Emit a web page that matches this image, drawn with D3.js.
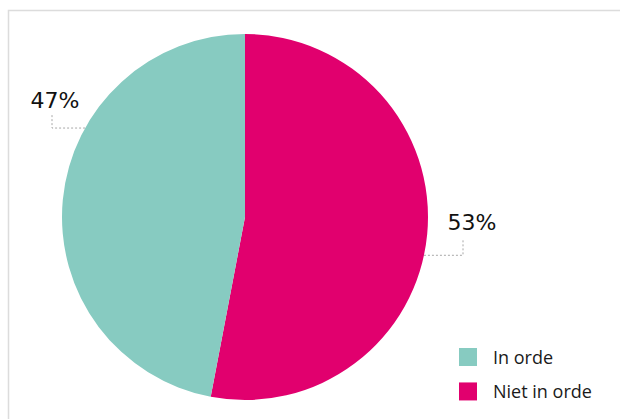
<html>
<head>
<script src="https://d3js.org/d3.v7.min.js"></script>
<style>
  body { margin: 0; background: #fff; }
  text { font-family: "Open Sans", "Noto Sans", sans-serif; }
</style>
</head>
<body>
<svg width="620" height="419"></svg>
<script>
    const categories = ['Niet in orde', 'In orde'];
    const values = [53, 47];
    const labels = ['53%', '47%'];
    const legendOrder = ['In orde', 'Niet in orde'];

    const colors = { 'In orde': '#87cbc1', 'Niet in orde': '#e1006e' };

    const svg = d3.select('svg');

    // frame around the chart (continues past the right and bottom edges)
    svg.append('path')
        .attr('d', 'M8.5,430 L8.5,10.5 L630,10.5')
        .attr('fill', 'none')
        .attr('stroke', '#dcdcdc')
        .attr('stroke-width', 1.5);

    const cx = 245, cy = 217, r = 183;
    const g = svg.append('g').attr('transform', `translate(${cx},${cy})`);

    const pie = d3.pie().sort(null).value(d => d.value);
    const arcs = pie(categories.map((c, i) => ({ name: c, value: values[i], label: labels[i] })));
    const arc = d3.arc().innerRadius(0).outerRadius(r);

    g.selectAll('path.slice')
        .data(arcs)
        .enter()
        .append('path')
        .attr('class', 'slice')
        .attr('d', arc)
        .attr('fill', d => colors[d.data.name]);

    // where each leader line meets the pie, as a fraction through the slice
    const anchorFrac = [0.535, 0.64];
    // elbow: horizontal run then vertical up to the label
    const leader = [
        { dx: 463 - cx, up: 15, tx: 472 - cx, ty: 230 - cy },
        { dx: 52 - cx, up: 13, tx: 55 - cx, ty: 108 - cy }
    ];

    arcs.forEach((d, i) => {
        const a = d.startAngle + (d.endAngle - d.startAngle) * anchorFrac[i];
        const ex = r * Math.sin(a), ey = -r * Math.cos(a);
        const L = leader[i];
        g.append('path')
            .attr('d', `M${ex},${ey} L${L.dx},${ey} L${L.dx},${ey - L.up}`)
            .attr('fill', 'none')
            .attr('stroke', '#a8a8a8')
            .attr('stroke-width', 1)
            .attr('stroke-dasharray', '2,2');
        g.append('text')
            .attr('x', L.tx)
            .attr('y', L.ty)
            .attr('text-anchor', 'middle')
            .style('font-size', '22px')
            .style('font-family', '"DejaVu Sans", sans-serif')
            .attr('fill', '#111')
            .text(d.data.label);
    });

    const legend = svg.append('g').attr('transform', 'translate(459,348)');
    const yLeg = d3.scaleBand().domain(legendOrder).range([0, 62]).paddingInner(0.2);
    legend.selectAll('rect')
        .data(legendOrder)
        .enter()
        .append('rect')
        .attr('x', 0)
        .attr('y', d => yLeg(d))
        .attr('width', 18)
        .attr('height', 18)
        .attr('fill', d => colors[d]);
    legend.selectAll('text')
        .data(legendOrder)
        .enter()
        .append('text')
        .attr('x', 34)
        .attr('y', d => yLeg(d) + 16)
        .style('font-size', '18px')
        .attr('fill', '#1a1a1a')
        .text(d => d);
</script>
</body>
</html>
